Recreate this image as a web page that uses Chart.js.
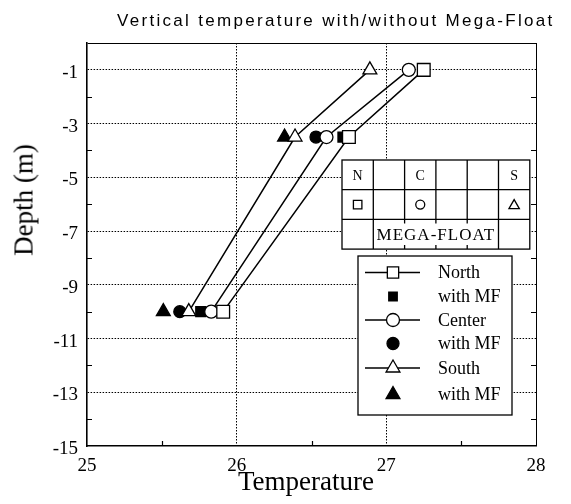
<!DOCTYPE html>
<html>
<head>
<meta charset="utf-8">
<script src="https://cdn.jsdelivr.net/npm/chart.js@4/dist/chart.umd.min.js"></script>
<style>
  html, body { margin: 0; padding: 0; background: #fff; }
  #wrap { position: relative; width: 571px; height: 504px; }
  #c { position: absolute; left: 0; top: 0; }
  .t { position: absolute; color: #000; white-space: nowrap; }
  #title { left: 117px; top: 11px; font: 17px "Liberation Sans", Arial, sans-serif; letter-spacing: 2.3px; }
  #xt { left: 0; width: 612px; text-align: center; top: 466px; font: 27px "Liberation Serif", serif; }
  #yt { left: 24px; top: 200px; font: 27px "Liberation Serif", serif; transform: translate(-50%, -50%) rotate(-90deg); }
</style>
</head>
<body>
<div id="wrap">
  <canvas id="c" width="571" height="504"></canvas>
  <div class="t" id="title">Vertical temperature with/without Mega-Float</div>
  <div class="t" id="xt">Temperature</div>
  <div class="t" id="yt">Depth (m)</div>
</div>
<script>
// ---- data ----
const depthsAll = [-1, -3.5, -10];
const depthsMF = [-3.5, -10];
const northTemp = [27.25, 26.75, 25.91];
const northMF = [26.71, 25.76];
const centerTemp = [27.15, 26.60, 25.83];
const centerMF = [26.53, 25.62];
const southTemp = [26.89, 26.39, 25.68];
const southMF = [26.32, 25.51];
const xTicks = [25, 26, 27, 28];
const yTicks = [-1, -3, -5, -7, -9, -11, -13, -15];
const legendLabels = ['North', 'with MF', 'Center', 'with MF', 'South', 'with MF'];
const tableTop = ['N', '', 'C', '', '', 'S'];
const tableLabel = 'MEGA-FLOAT';

const pts = (xs, ys) => xs.map((x, i) => ({ x: x, y: ys[i] }));

const markerStyles = [
  { style: 'rect', r: 9, fill: '#fff', line: true },
  { style: 'rect', r: 7, fill: '#000', line: false },
  { style: 'circle', r: 6.5, fill: '#fff', line: true },
  { style: 'circle', r: 6, fill: '#000', line: false },
  { style: 'triangle', r: 8, fill: '#fff', line: true },
  { style: 'triangle', r: 8, fill: '#000', line: false }
];
const seriesData = [
  pts(northTemp, depthsAll), pts(northMF, depthsMF),
  pts(centerTemp, depthsAll), pts(centerMF, depthsMF),
  pts(southTemp, depthsAll), pts(southMF, depthsMF)
];

const datasets = seriesData.map((d, i) => {
  const m = markerStyles[i];
  return {
    label: legendLabels[i],
    data: d,
    showLine: m.line,
    borderColor: '#000',
    borderWidth: 1.5,
    pointStyle: m.style,
    pointRadius: m.r,
    pointHoverRadius: m.r,
    pointBackgroundColor: m.fill,
    pointBorderColor: '#000',
    pointBorderWidth: 1.3,
    order: m.line ? 0 : 1
  };
});

const serif = '"Liberation Serif", "Times New Roman", serif';

const decorPlugin = {
  id: 'decor',
  afterDraw(chart) {
    const ctx = chart.ctx;
    const a = chart.chartArea;
    const xs = chart.scales.x, ys = chart.scales.y;
    ctx.save();
    // minor inward ticks
    ctx.strokeStyle = '#000';
    ctx.lineWidth = 1.2;
    ctx.beginPath();
    for (let v = -14; v <= -2; v += 2) {
      const y = Math.round(ys.getPixelForValue(v)) + 0.5;
      ctx.moveTo(a.left, y); ctx.lineTo(a.left + 5, y);
      ctx.moveTo(a.right, y); ctx.lineTo(a.right - 5, y);
    }
    for (let v = 25.5; v < 28; v += 1) {
      const x = Math.round(xs.getPixelForValue(v)) + 0.5;
      ctx.moveTo(x, a.bottom); ctx.lineTo(x, a.bottom - 5);
    }
    ctx.stroke();

    // inset table
    const tx = 342, ty = 160, cw = 31.3, rh = 29.7;
    const tw = cw * 6, th = rh * 3;
    ctx.fillStyle = '#fff';
    ctx.fillRect(tx, ty, tw, th);
    ctx.lineWidth = 1.3;
    ctx.strokeStyle = '#000';
    ctx.strokeRect(tx, ty, tw, th);
    ctx.beginPath();
    ctx.moveTo(tx, ty + rh); ctx.lineTo(tx + tw, ty + rh);
    ctx.moveTo(tx, ty + 2 * rh); ctx.lineTo(tx + tw, ty + 2 * rh);
    for (let c = 1; c < 6; c++) {
      const x = tx + c * cw;
      if (c === 1 || c === 5) {
        ctx.moveTo(x, ty); ctx.lineTo(x, ty + th);
      } else {
        ctx.moveTo(x, ty); ctx.lineTo(x, ty + 2 * rh);
        ctx.moveTo(x, ty + 2 * rh); ctx.lineTo(x, ty + 2 * rh + 4);
        ctx.moveTo(x, ty + th); ctx.lineTo(x, ty + th - 4);
      }
    }
    ctx.stroke();
    ctx.fillStyle = '#000';
    ctx.textAlign = 'center';
    ctx.textBaseline = 'middle';
    ctx.font = '14px ' + serif;
    tableTop.forEach((s, i) => {
      if (s) ctx.fillText(s, tx + (i + 0.5) * cw, ty + rh / 2 + 1);
    });
    const tblMarks = [[0, 'rect', 6], [2, 'circle', 4.5], [5, 'triangle', 6]];
    tblMarks.forEach(([c, st, r]) => {
      ctx.fillStyle = '#fff';
      ctx.strokeStyle = '#000';
      ctx.lineWidth = 1.3;
      Chart.helpers.drawPoint(ctx, { pointStyle: st, radius: r, rotation: 0, borderWidth: 1.3 }, tx + (c + 0.5) * cw, ty + rh * 1.5 + (st === 'triangle' ? 1 : 0));
    });
    ctx.fillStyle = '#000';
    ctx.font = '17px ' + serif;
    if ('letterSpacing' in ctx) ctx.letterSpacing = '1px';
    ctx.fillText(tableLabel, tx + 3 * cw, ty + rh * 2.5 + 1);
    if ('letterSpacing' in ctx) ctx.letterSpacing = '0px';

    // legend
    const lx = 358, ly = 256, lw = 154, lh = 159;
    ctx.fillStyle = '#fff';
    ctx.fillRect(lx, ly, lw, lh);
    ctx.strokeStyle = '#000';
    ctx.lineWidth = 1.3;
    ctx.strokeRect(lx, ly, lw, lh);
    const rows = [272.5, 296.5, 320, 343.5, 368, 394.5];
    ctx.font = '18px ' + serif;
    ctx.textAlign = 'left';
    datasets.forEach((ds, i) => {
      const y = rows[i];
      const m = markerStyles[i];
      if (m.line) {
        ctx.strokeStyle = '#000';
        ctx.lineWidth = 1.5;
        ctx.beginPath();
        ctx.moveTo(365, y); ctx.lineTo(420, y);
        ctx.stroke();
      }
      ctx.fillStyle = m.fill;
      ctx.strokeStyle = '#000';
      ctx.lineWidth = 1.3;
      const r = m.style === 'rect' ? (m.line ? 8 : 6) : m.r;
      Chart.helpers.drawPoint(ctx, { pointStyle: m.style, radius: r, rotation: 0, borderWidth: 1.3 }, 393, y);
      ctx.fillStyle = '#000';
      ctx.fillText(ds.label, 438, y + 1);
    });
    ctx.restore();
  }
};

new Chart(document.getElementById('c'), {
  type: 'scatter',
  data: { datasets: datasets },
  options: {
    responsive: false,
    animation: false,
    events: [],
    layout: { padding: { top: 43, right: 35, left: 0, bottom: 0 } },
    plugins: { legend: { display: false }, tooltip: { enabled: false }, title: { display: false } },
    scales: {
      x: {
        type: 'linear', min: 25, max: 28,
        afterFit: s => { s.height = 58; },
        afterBuildTicks: s => { s.ticks = xTicks.map(v => ({ value: v })); },
        ticks: { color: '#000', font: { family: serif, size: 19 }, padding: 9, autoSkip: false, maxRotation: 0 },
        grid: {
          drawTicks: false,
          lineWidth: 1,
          color: c => (c.tick && (c.tick.value === 26 || c.tick.value === 27 || c.tick.value === 28)) ? '#000' : 'transparent'
        },
        border: { display: true, color: '#000', width: 1.6, dash: c => (c.tick && c.tick.value === 28) ? [] : [1.5, 1.5] }
      },
      y: {
        type: 'linear', min: -15, max: 0,
        afterFit: s => { s.width = 87; },
        afterBuildTicks: s => { s.ticks = yTicks.concat([0]).map(v => ({ value: v })); },
        ticks: { color: '#000', font: { family: serif, size: 19 }, padding: 9, labelOffset: 3, autoSkip: false,
                 callback: v => (v === 0 ? '' : String(v)) },
        grid: {
          drawTicks: false,
          lineWidth: 1,
          color: c => (c.tick && c.tick.value !== -15) ? '#000' : 'transparent'
        },
        border: { display: true, color: '#000', width: 1.6, dash: c => (c.tick && c.tick.value === 0) ? [] : [1.5, 1.5] }
      }
    }
  },
  plugins: [decorPlugin]
});
</script>
</body>
</html>
